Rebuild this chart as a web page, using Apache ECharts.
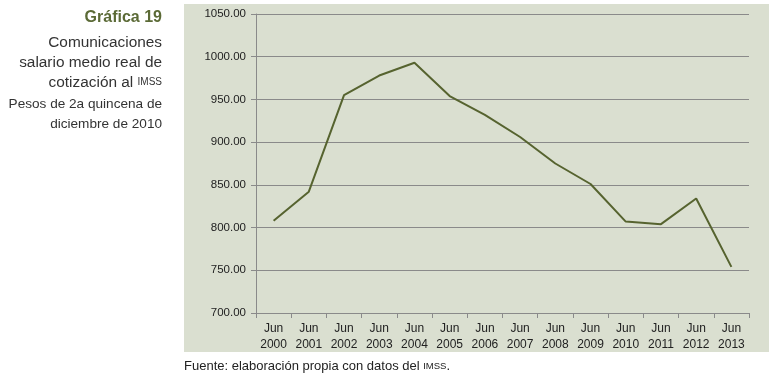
<!DOCTYPE html>
<html>
<head>
<meta charset="utf-8">
<script src="https://cdn.jsdelivr.net/npm/echarts@6/dist/echarts.min.js"></script>
<style>
  html, body { margin: 0; padding: 0; background: #fff; }
  #chart { width: 769px; height: 380px; }
</style>
</head>
<body>
<div id="chart"></div>
<script>
var years = ['2000', '2001', '2002', '2003', '2004', '2005', '2006', '2007', '2008', '2009', '2010', '2011', '2012', '2013'];
var salario = [808, 842, 955, 978, 993, 954, 932, 906, 875, 851, 807, 804, 834, 754];
var yMin = 700, yMax = 1050, yStep = 50;

var categories = years.map(function (y) { return 'Jun\n' + y; });
var font = 'Liberation Sans, Arial, Helvetica, sans-serif';

var chart = echarts.init(document.getElementById('chart'));
chart.setOption({
    animation: false,
    backgroundColor: '#ffffff',
    graphic: [
        { type: 'rect', z: -10, shape: { x: 184, y: 4, width: 585, height: 348 }, style: { fill: '#dadfd0' } },
        { type: 'text', right: 607, top: 10, style: { text: 'Gráfica 19', font: 'bold 16px ' + font, fill: '#5b6a36' } },
        { type: 'text', right: 607, top: 35, style: { text: 'Comunicaciones', font: '15.4px ' + font, fill: '#333' } },
        { type: 'text', right: 607, top: 55, style: { text: 'salario medio real de', font: '15.4px ' + font, fill: '#333' } },
        { type: 'text', right: 607, top: 75, style: { text: '{a|cotización al }{b|IMSS}', rich: { a: { font: '15.4px ' + font, fill: '#333' }, b: { font: '10px ' + font, fill: '#333' } } } },
        { type: 'text', right: 607, top: 97, style: { text: 'Pesos de 2a quincena de', font: '13.6px ' + font, fill: '#333' } },
        { type: 'text', right: 607, top: 117, style: { text: 'diciembre de 2010', font: '13.6px ' + font, fill: '#333' } },
        { type: 'text', left: 184, top: 360, style: { text: '{a|Fuente: elaboración propia con datos del }{b|IMSS}{a|.}', rich: { a: { font: '13px ' + font, fill: '#222' }, b: { font: '9.5px ' + font, fill: '#222' } } } }
    ],
    grid: { left: 256, right: 20, top: 14, bottom: 67, containLabel: false },
    xAxis: {
        type: 'category',
        data: categories,
        boundaryGap: true,
        axisLine: { lineStyle: { color: '#8a8a8a', width: 1 } },
        axisTick: { show: true, length: 5, lineStyle: { color: '#8a8a8a' } },
        axisLabel: { color: '#222', fontFamily: font, fontSize: 12, lineHeight: 16, margin: 8, interval: 0 }
    },
    yAxis: {
        type: 'value',
        min: yMin,
        max: yMax,
        interval: yStep,
        axisLine: { show: true, lineStyle: { color: '#8a8a8a', width: 1 } },
        axisTick: { show: true, length: 5, inside: false, lineStyle: { color: '#8a8a8a' } },
        splitLine: { lineStyle: { color: '#8a8a8a', width: 1 } },
        axisLabel: {
            color: '#222', fontFamily: font, fontSize: 11.5, margin: 10,
            formatter: function (v) { return v.toFixed(2); }
        }
    },
    series: [{
        type: 'line',
        data: salario,
        symbol: 'none',
        lineStyle: { color: '#56632f', width: 2 }
    }]
});
</script>
</body>
</html>
